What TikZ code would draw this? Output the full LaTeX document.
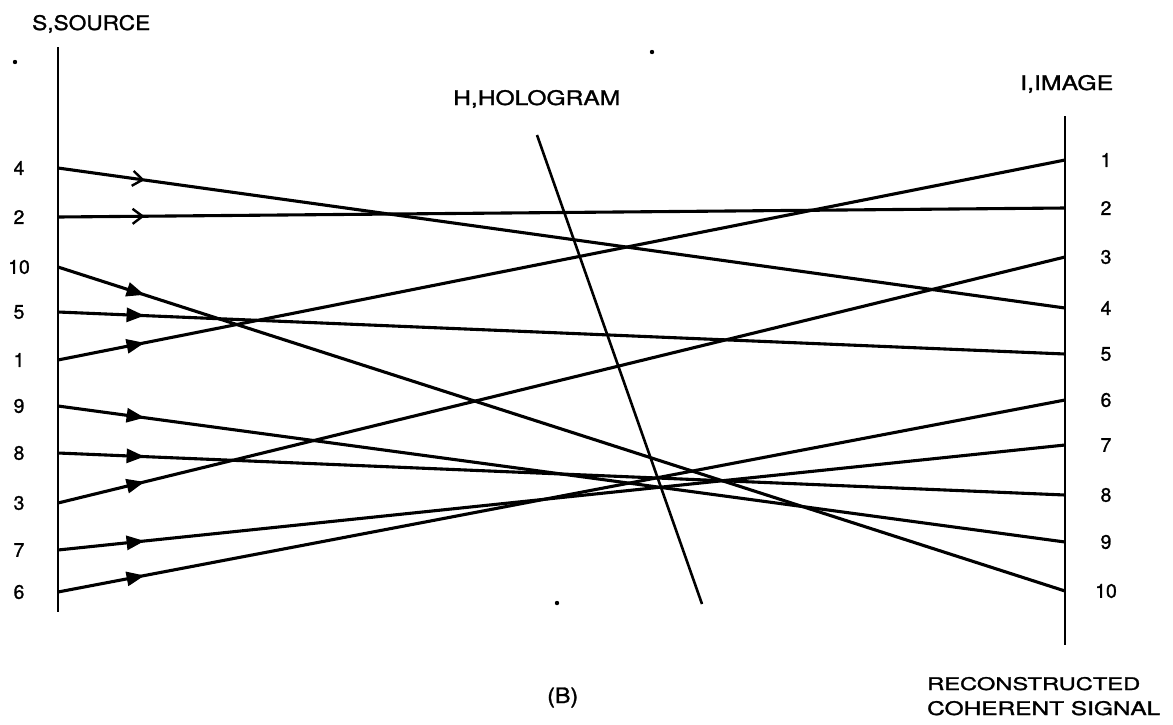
\documentclass[tikz,border=0pt]{standalone}
\usepackage{fontspec}
\setmainfont{TeX Gyre Heros}[FakeBold=1.2]
\usetikzlibrary{arrows.meta,decorations.markings}
\begin{document}
\begin{tikzpicture}[x=1pt,y=-1pt,
  axisline/.style={line width=2.8pt},
  rightaxis/.style={line width=2.3pt},
  holo/.style={line width=2.6pt},
  ray/.style={line width=3.1pt, postaction={decorate},
    decoration={markings, mark=at position 0.086 with {\arrow{Triangle[length=18pt,width=14pt]}}}},
  openray/.style={line width=3.1pt, postaction={decorate},
    decoration={markings, mark=at position 0.086 with {\arrow{Straight Barb[length=10pt,width=15pt,line width=2.4pt]}}}},
  num/.style={inner sep=0pt, font=\fontsize{19.5}{21}\selectfont},
  txt/.style={inner sep=0pt, anchor=base west}]
\useasboundingbox (0,0) rectangle (1173,724);

% axes
\coordinate (sa) at (58,47);
\coordinate (sb) at (58,612);
\coordinate (ia) at (1065,116);
\coordinate (ib) at (1065,645);
\draw[axisline] (sa) -- (sb);
\draw[rightaxis] (ia) -- (ib);

% source points and labels
\foreach \n/\y in {4/168,2/217,10/267,5/312,1/360,9/406,8/453,3/503,7/550,6/592}{
  \coordinate (s\n) at (58,\y);
  \node[num] (ls\n) at (19,\y) {\n};
}
% image points and labels
\foreach \n/\y in {1/160,2/208,3/257,4/308,5/354,6/400,7/445,8/495,9/542,10/591}{
  \coordinate (i\n) at (1065,\y);
  \node[num] (li\n) at (1106,\y) {\n};
}

% rays
\draw[openray] (s4) -- (i4);
\draw[openray] (s2) -- (i2);
\foreach \n in {1,3,5,6,7,8,9,10}{
  \draw[ray] (s\n) -- (i\n);
}

% hologram
\coordinate (h1) at (537,135);
\coordinate (h2) at (702,604);
\draw[holo] (h1) -- (h2);

% texts
\node[txt] (tsrc) at (32,30) {\resizebox{118pt}{15pt}{S,SOURCE}};
\node[txt] (timg) at (1020,90) {\resizebox{93pt}{15pt}{I,IMAGE}};
\node[txt] (tholo) at (453,105) {\resizebox{167pt}{15pt}{H,HOLOGRAM}};
\node[txt] (tb) at (547,703) {\resizebox{31pt}{15.5pt}{(B)}};
\node[txt] (trec) at (927,690) {\resizebox{213pt}{13pt}{RECONSTRUCTED}};
\node[txt] (tcoh) at (927,715) {\resizebox{233pt}{14pt}{COHERENT SIGNAL}};

% specks
\fill (15,62) circle (2.2pt);
\fill (652,52) circle (2.2pt);
\fill (557,603) circle (2.2pt);
\end{tikzpicture}
\end{document}
